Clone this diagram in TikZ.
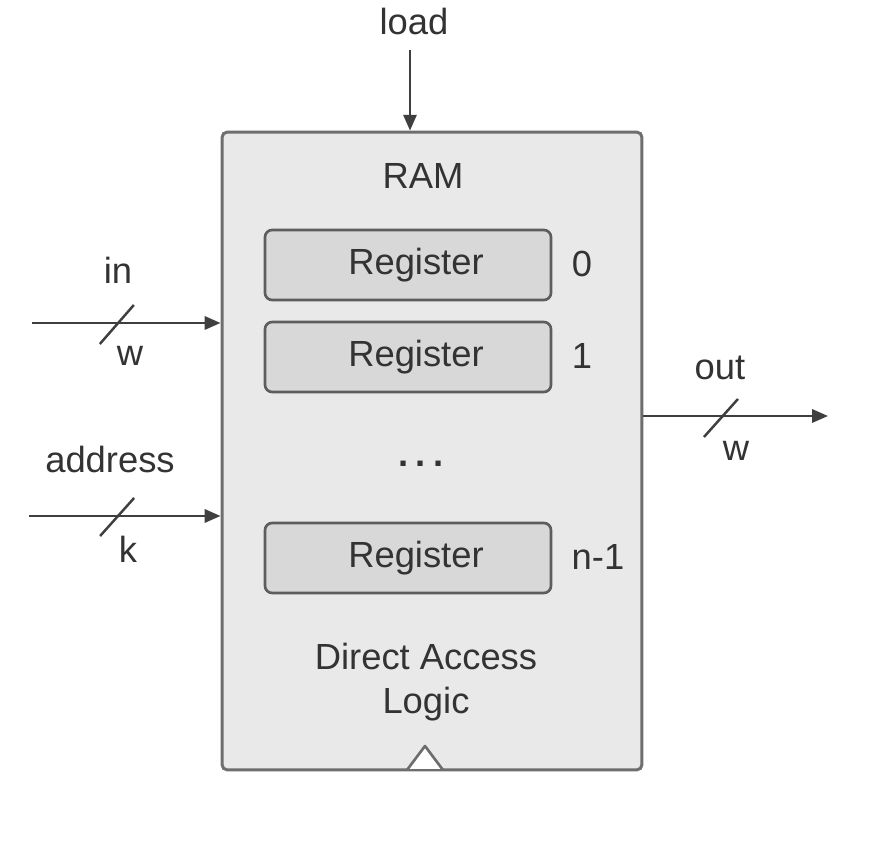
\documentclass[tikz,border=0pt]{standalone}
\usepackage{fontspec}
\setmainfont{Liberation Sans}
\usetikzlibrary{arrows.meta}
\definecolor{boxfill}{HTML}{E9E9E9}
\definecolor{regfill}{HTML}{D8D8D8}
\definecolor{edge}{HTML}{6E6E6E}
\definecolor{ink}{HTML}{333333}
\definecolor{wirecol}{HTML}{3F3F3F}
\tikzset{
  lbl/.style={text=ink, font=\fontsize{20.7}{25}\selectfont, inner sep=0pt},
  rambox/.style={draw=edge, line width=1.7pt, fill=boxfill, rounded corners=3pt,
    minimum width=8.4cm, minimum height=12.76cm, inner sep=0pt},
  regbox/.style={draw=edge!85!black, line width=1.5pt, fill=regfill, rounded corners=4pt,
    minimum width=5.72cm, minimum height=1.4cm, text=ink,
    font=\fontsize{20.7}{25}\selectfont},
  wire/.style={draw=wirecol, line width=1.4pt},
  arr/.style={wire, -{Triangle[length=9pt,width=7.5pt]}},
}
\begin{document}
\begin{tikzpicture}[x=0.02cm, y=-0.02cm]
  \useasboundingbox[fill=white] (0,0) rectangle (877,847);

  % memory block
  \node[rambox] (ram) at (432,451) {};
  \node[lbl] (title) at (423,176) {RAM};
  \node[regbox] (r0) at (408,265) {\hspace{0.32cm}Register};
  \node[regbox] (r1) at (408,357) {\hspace{0.32cm}Register};
  \node[regbox] (rn) at (408,558) {\hspace{0.32cm}Register};
  \node[lbl] (i0) at (582,264) {0};
  \node[lbl] (i1) at (582,356) {1};
  \node[lbl] (in1) at (598,557) {n-1};
  \node[lbl, font=\fontsize{20.7}{25}\bfseries, anchor=base] (dots) at (421,467)
    {.\hspace{0.14cm}.\hspace{0.14cm}.};
  \node[lbl, align=center] (logic) at (426,682) {Direct Access\\Logic};

  % clock marker on the bottom edge
  \draw[draw=edge, line width=1.5pt, fill=white, line join=round]
    (407,770) -- (425,746) -- (443,770);
  \draw[draw=edge, line width=1.7pt] (404,770) -- (446,770);

  % load input
  \node[lbl] (load) at (414,22) {load};
  \coordinate (loadS) at (410,50);
  \draw[arr] (loadS) -- (loadS |- ram.north);

  % data input
  \node[lbl] (inl) at (118,270) {in};
  \node[lbl] (inw) at (130,356) {w};
  \coordinate (inS) at (32,323);
  \draw[arr] (inS) -- coordinate[pos=0.45] (inM) (inS -| ram.west);
  \draw[wire] (inM) +(-17,21) -- +(17,-18);

  % address input
  \node[lbl] (addr) at (110,460) {address};
  \node[lbl] (addrk) at (128,549) {k};
  \coordinate (adS) at (29,516);
  \draw[arr] (adS) -- coordinate[pos=0.46] (adM) (adS -| ram.west);
  \draw[wire] (adM) +(-17,20) -- +(17,-18);

  % data output
  \node[lbl] (outl) at (720,368) {out};
  \node[lbl] (outw) at (736,451) {w};
  \coordinate (outE) at (828,416);
  \draw[arr] (outE -| ram.east) -- coordinate[pos=0.42] (outM) (outE);
  \draw[wire] (outM) +(-17,21) -- +(17,-17);
\end{tikzpicture}
\end{document}
